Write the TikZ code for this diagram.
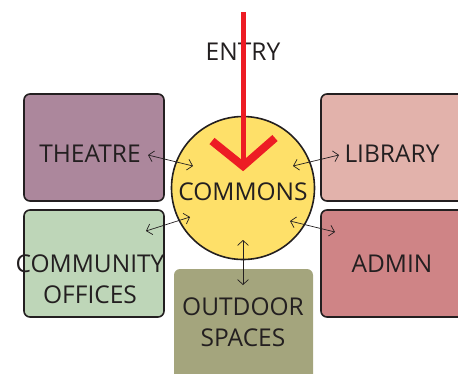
\documentclass[tikz,border=0pt]{standalone}
\usepackage{fontspec}
\setmainfont{Open Sans}
\usetikzlibrary{arrows.meta}
\definecolor{txt}{HTML}{231F20}
\definecolor{theatrec}{HTML}{AC879C}
\definecolor{libraryc}{HTML}{E2B2AB}
\definecolor{commc}{HTML}{BED6B8}
\definecolor{adminc}{HTML}{CF8486}
\definecolor{outc}{HTML}{A4A57D}
\definecolor{commonsc}{HTML}{FEE069}
\definecolor{entryred}{HTML}{ED1C24}
\tikzset{
  room/.style={draw=txt, line width=1.6pt, rounded corners=6pt, minimum width=140pt, minimum height=107pt, inner sep=0pt},
  link/.style={draw=txt, line width=0.7pt, {Straight Barb[length=5pt,width=11pt]}-{Straight Barb[length=5pt,width=11pt]}},
  lbl/.style={text=txt, font=\fontsize{24.5}{31}\selectfont, inner sep=0pt, align=center}
}
\begin{document}
\begin{tikzpicture}[x=1pt,y=-1pt]
\useasboundingbox (0,0) rectangle (458,373);
\clip (0,0) rectangle (458,373);
\node[room, fill=theatrec] (theatre) at (94,147.5) {};
\node[room, fill=libraryc, minimum width=150pt] (library) at (396,147.5) {};
\node[room, fill=commc] (community) at (94,263.5) {};
\node[room, fill=adminc, minimum width=150pt] (admin) at (396,263.5) {};
\node[room, draw=none, fill=outc, minimum width=139pt, minimum height=120pt] (outdoor) at (243.5,329) {};
\node[circle, draw=txt, line width=1.6pt, fill=commonsc, minimum size=143pt, inner sep=0pt] (commons) at (243,188) {};
\node[lbl] (theatrel) at (90,154) {THEATRE};
\node[lbl] (libraryl) at (392,154) {LIBRARY};
\node[lbl] (adminl) at (392,264) {ADMIN};
\node[lbl] (communityl) at (90,279) {COMMUNITY\\OFFICES};
\node[lbl] (outdoorl) at (243,322) {OUTDOOR\\SPACES};
\node[lbl] (commonsl) at (243,192) {COMMONS};
\node[lbl] (entry) at (243,52) {ENTRY};
\coordinate (top) at (243,12);
\coordinate (tip) at (243,166);
\coordinate (chl) at (212,141);
\coordinate (chr) at (275,138);
\draw[entryred, line width=5pt] (top) -- (tip);
\draw[entryred, line width=8pt] (chl) -- (tip) -- (chr);
\coordinate (t1) at (148,155); \coordinate (t2) at (193,166);
\coordinate (l1) at (293,166); \coordinate (l2) at (339,155);
\coordinate (c1) at (146,231); \coordinate (c2) at (190,217);
\coordinate (a1) at (290,221); \coordinate (a2) at (335,232);
\coordinate (o1) at (243,240); \coordinate (o2) at (243,285);
\draw[link] (t1) -- (t2);
\draw[link] (l1) -- (l2);
\draw[link] (c1) -- (c2);
\draw[link] (a1) -- (a2);
\draw[link] (o1) -- (o2);
\end{tikzpicture}
\end{document}
